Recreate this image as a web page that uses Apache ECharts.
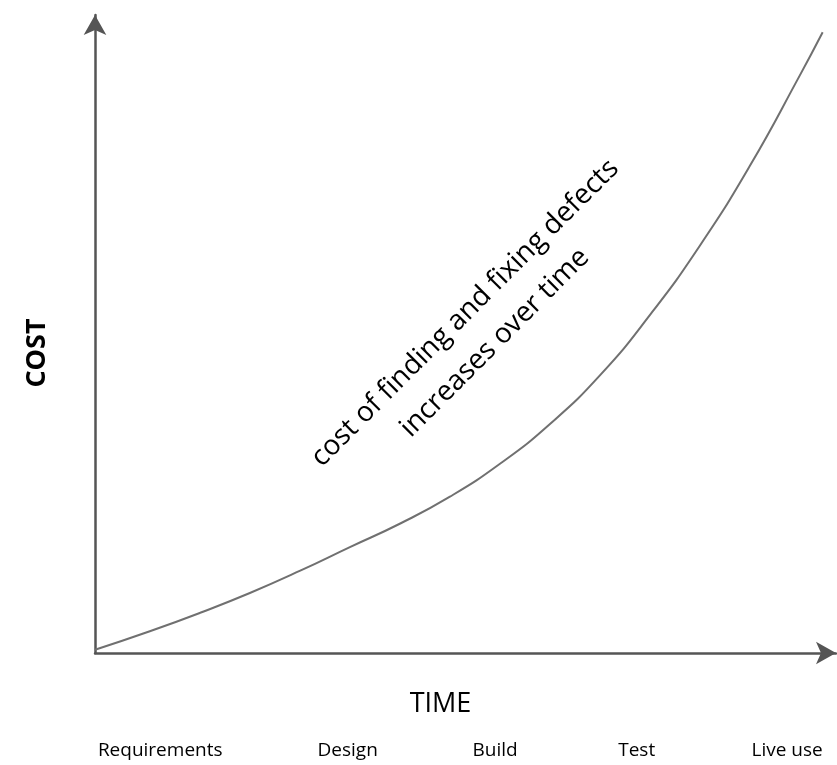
<!DOCTYPE html>
<html>
<head>
<meta charset="utf-8">
<script src="https://cdn.jsdelivr.net/npm/echarts@6/dist/echarts.min.js"></script>
<style>
  html, body { margin: 0; padding: 0; background: #fff; }
  #chart { width: 837px; height: 765px; }
</style>
</head>
<body>
<div id="chart"></div>
<script>
// curve (time 0..100, cost 0..100)
let timeValues = [0, 7.4, 14.2, 20.9, 27.7, 34.4, 41.2, 47.9, 54.7, 61.4, 68.2, 74.9, 81.6, 88.4, 95.1, 98.2];
let costValues = [0.5, 3.4, 6.3, 9.4, 12.9, 16.6, 20.3, 24.5, 29.7, 35.9, 43.6, 53.0, 63.8, 76.4, 90.5, 97.3];

// phase labels along the time axis
let phaseNames = ['Requirements', 'Design', 'Build', 'Test', 'Live use'];
let phasePositions = [8.8, 34.1, 54.0, 73.1, 93.4];

let noteLines = ['cost of finding and fixing defects', 'increases over time'];

let axisColor = '#555555';
let font = 'Open Sans';

let curveData = timeValues.map(function (t, i) {
  return [t, costValues[i]];
});

let myChart = echarts.init(document.getElementById('chart'), null, {renderer: 'canvas'});

let option = {
  animation: false,
  backgroundColor: '#ffffff',
  grid: {
    left: 95,
    right: 1,
    top: 15,
    bottom: 112,
    outerBoundsMode: 'none'
  },
  xAxis: {
    type: 'value',
    min: 0,
    max: 100,
    name: 'TIME',
    nameLocation: 'middle',
    nameGap: 38,
    nameMoveOverlap: false,
    nameTextStyle: {
      fontFamily: font,
      fontSize: 27,
      color: '#000',
      padding: [0, 50, 0, 0]
    },
    splitLine: {show: false},
    axisTick: {show: false},
    axisLine: {
      show: true,
      symbol: ['none', 'arrow'],
      symbolSize: [17, 20],
      lineStyle: {color: axisColor, width: 2.5}
    },
    axisLabel: {
      customValues: phasePositions,
      margin: 88,
      fontFamily: font,
      fontSize: 19,
      color: '#000',
      formatter: function (value) {
        let idx = phasePositions.indexOf(value);
        return idx >= 0 ? phaseNames[idx] : '';
      }
    }
  },
  yAxis: {
    type: 'value',
    min: 0,
    max: 100,
    name: 'COST',
    nameLocation: 'middle',
    nameGap: 44,
    nameMoveOverlap: false,
    nameTextStyle: {
      fontFamily: font,
      fontSize: 27,
      fontWeight: 'bold',
      color: '#000',
      padding: [0, 38, 0, 0]
    },
    splitLine: {show: false},
    axisTick: {show: false},
    axisLabel: {show: false},
    axisLine: {
      show: true,
      symbol: ['none', 'arrow'],
      symbolSize: [17, 20],
      lineStyle: {color: axisColor, width: 2.5}
    }
  },
  series: [{
    type: 'line',
    data: curveData,
    smooth: 0.5,
    showSymbol: false,
    lineStyle: {color: '#707070', width: 2}
  }],
  graphic: [{
    type: 'text',
    x: 480,
    y: 328,
    rotation: Math.PI / 4,
    style: {
      text: noteLines.join('\n'),
      fontFamily: font,
      fontSize: 28,
      lineHeight: 42,
      fill: '#000',
      align: 'center',
      verticalAlign: 'middle'
    }
  }]
};

myChart.setOption(option);
</script>
</body>
</html>
